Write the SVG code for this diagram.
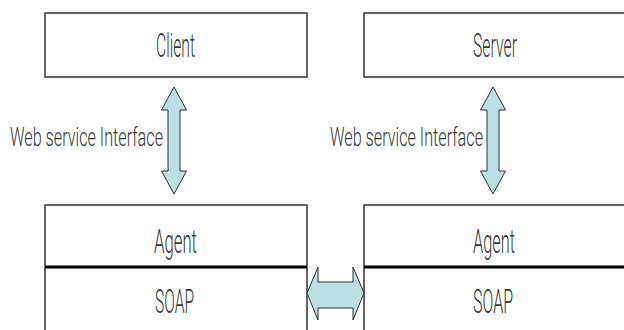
<svg xmlns="http://www.w3.org/2000/svg" width="624" height="330" viewBox="0 0 624 330">
<style>
.box{fill:#fdfdfd;stroke:#333;stroke-width:1.5}
.sep{stroke:#000;stroke-width:3}
.t{font-family:Roboto,"Liberation Sans",Arial,sans-serif;font-weight:300;font-size:33px;fill:#3a3a3a}
.lbl{font-family:Roboto,"Liberation Sans",Arial,sans-serif;font-weight:300;font-size:26px;fill:#3a3a3a}
.arr{fill:#b9e0e3;stroke:#333;stroke-width:1}
</style>
<rect width="624" height="330" fill="#fdfdfd"/>
<g id="client">
<rect class="box" x="45" y="13" width="262" height="64"/>
<text class="t" x="156" y="57" textLength="39" lengthAdjust="spacingAndGlyphs">Client</text>
</g>
<g id="server">
<rect class="box" x="364" y="13" width="270" height="64"/>
<text class="t" x="473" y="57" textLength="44" lengthAdjust="spacingAndGlyphs">Server</text>
</g>
<g id="agent-left">
<rect class="box" x="45" y="205" width="262" height="140"/>
<line class="sep" x1="45" y1="267" x2="307" y2="267"/>
<text class="t" x="154" y="253" textLength="43" lengthAdjust="spacingAndGlyphs">Agent</text>
<text class="t" x="155" y="313" textLength="39" lengthAdjust="spacingAndGlyphs">SOAP</text>
</g>
<g id="agent-right">
<rect class="box" x="364" y="205" width="270" height="140"/>
<line class="sep" x1="364" y1="267" x2="624" y2="267"/>
<text class="t" x="473" y="253" textLength="42" lengthAdjust="spacingAndGlyphs">Agent</text>
<text class="t" x="473" y="313" textLength="40" lengthAdjust="spacingAndGlyphs">SOAP</text>
</g>
<g id="connectors">
<path class="arr" d="M174,87 L186.5,110 L180,110 L180,171 L186.5,171 L174,194 L161.5,171 L168,171 L168,110 L161.5,110 Z"/>
<path class="arr" d="M493,87 L505.5,110 L499,110 L499,171 L505.5,171 L493,194 L480.5,171 L487,171 L487,110 L480.5,110 Z"/>
<path class="arr" d="M307,293 L318,267 L318,282 L353,282 L353,267 L364,293 L353,320 L353,308 L318,308 L318,320 Z"/>
<text class="lbl" x="10" y="146" textLength="153" lengthAdjust="spacingAndGlyphs">Web service Interface</text>
<text class="lbl" x="330" y="146" textLength="153" lengthAdjust="spacingAndGlyphs">Web service Interface</text>
</g>
</svg>
